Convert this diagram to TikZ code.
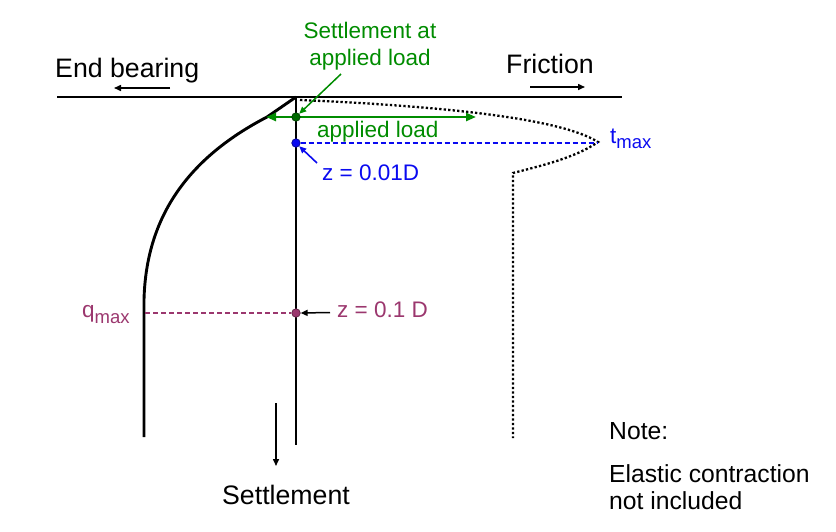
\documentclass[tikz,border=0pt]{standalone}
\usepackage{fontspec}
\setmainfont{Liberation Sans}
\usetikzlibrary{arrows.meta}
\definecolor{ggreen}{RGB}{0,140,0}
\definecolor{gblue}{RGB}{10,10,240}
\definecolor{gpurple}{RGB}{155,55,110}
\begin{document}
\begin{tikzpicture}[x=1pt,y=-1pt,
  thick line/.style={line width=2.9pt},
  lbl/.style={inner sep=0pt,font=\fontsize{26.7}{30}\selectfont},
  smalllbl/.style={inner sep=0pt,font=\fontsize{22.5}{26.7}\selectfont},
  notelbl/.style={inner sep=0pt,font=\fontsize{24.7}{27}\selectfont},
  dotpath/.style={line width=2.3pt,dash pattern=on 2.3pt off 2.2pt},
  smallarrow/.style={line width=1.5pt,-{Triangle[length=7pt,width=6pt]}},
  mydot/.style={circle,inner sep=0pt,minimum size=8.5pt,draw=black,line width=0.7pt},
  dashedline/.style={line width=1.4pt,dash pattern=on 5pt off 3pt}]
\useasboundingbox (0,0) rectangle (836,531);
% coordinates
\coordinate (topL) at (57,97);
\coordinate (topR) at (622,97);
\coordinate (pileTop) at (296,97);
\coordinate (pileBot) at (296,445);
% top line and pile
\draw[thick line] (topL) -- (topR);
\draw[thick line] (pileTop) -- (pileBot);
% end bearing curve
\draw[thick line,line join=round] (pileTop) -- (267,117) .. controls (190,157) and (146,215) .. (144,300) -- (144,437);
% friction dotted curve
\draw[dotpath] (300,100) .. controls (440,106) and (560,118) .. (598,142)
   .. controls (575,158) and (540,166) .. (513,173) -- (513,438);
% dashed levels
\node[mydot,fill=gblue,draw=gblue!60!black] (bdot) at (296,143) {};
\coordinate (tmaxpt) at (597,143);
\draw[draw=gblue,dashedline] (bdot) -- (tmaxpt);
\node[mydot,fill=gpurple,draw=gpurple!60!black] (pdot) at (296,313) {};
\coordinate (qmaxpt) at (145,313);
\draw[draw=gpurple,dashedline] (qmaxpt) -- (pdot);
% green applied load
\coordinate (gL) at (266,117);
\coordinate (gR) at (476,117);
\draw[ggreen,line width=2.4pt,{Triangle[length=10pt,width=8pt]}-{Triangle[length=10pt,width=8pt]}] (gL) -- (gR);
\node[mydot,fill=ggreen!75!black,draw=ggreen!45!black] (gdot) at (296,117) {};
\node[smalllbl,ggreen,anchor=base west] (aplbl) at (317,137) {applied load};
% Settlement at applied load
\node[smalllbl,ggreen,anchor=base] (sal1) at (370,38.5) {Settlement at};
\node[smalllbl,ggreen,anchor=base] (sal2) at (370,65) {applied load};
\coordinate (salstart) at (341,74);
\draw[ggreen,line width=1.5pt,-{Triangle[length=7pt,width=6pt]}] (salstart) -- (gdot.north east);
% t_max
\node[smalllbl,gblue,anchor=base west] (tmax) at (610,143.5) {t\raisebox{-5pt}{\fontsize{18.5}{20}\selectfont max}};
% z = 0.01D
\node[smalllbl,gblue,anchor=base west] (z1) at (322,180) {z = 0.01D};
\coordinate (z1s) at (317,163);
\draw[gblue,line width=1.6pt,-{Triangle[length=7pt,width=6pt]}] (z1s) -- (bdot.south east);
% q_max
\node[smalllbl,gpurple,anchor=base west] (qmax) at (82,317) {q\raisebox{-6pt}{\fontsize{18.5}{20}\selectfont max}};
% z = 0.1 D
\node[smalllbl,gpurple,anchor=base west] (z2) at (337,317) {z = 0.1 D};
\coordinate (z2s) at (330,312.5);
\draw[smallarrow] (z2s) -- (pdot.east);
% End bearing / Friction
\node[lbl,anchor=base west] (eb) at (55,77) {End bearing};
\coordinate (ebA) at (170,88);
\coordinate (ebB) at (114,88);
\draw[smallarrow] (ebA) -- (ebB);
\node[lbl,anchor=base west] (fr) at (506,73.5) {Friction};
\coordinate (frA) at (530,87);
\coordinate (frB) at (585,87);
\draw[smallarrow] (frA) -- (frB);
% Settlement
\coordinate (stA) at (276,403);
\coordinate (stB) at (276,466);
\draw[smallarrow] (stA) -- (stB);
\node[lbl,anchor=base] (st) at (286,504) {Settlement};
% Note
\node[notelbl,anchor=base west] (note1) at (609,439) {Note:};
\node[notelbl,anchor=base west] (note2) at (609,482) {Elastic contraction};
\node[notelbl,anchor=base west] (note3) at (609,509) {not included};
\end{tikzpicture}
\end{document}
